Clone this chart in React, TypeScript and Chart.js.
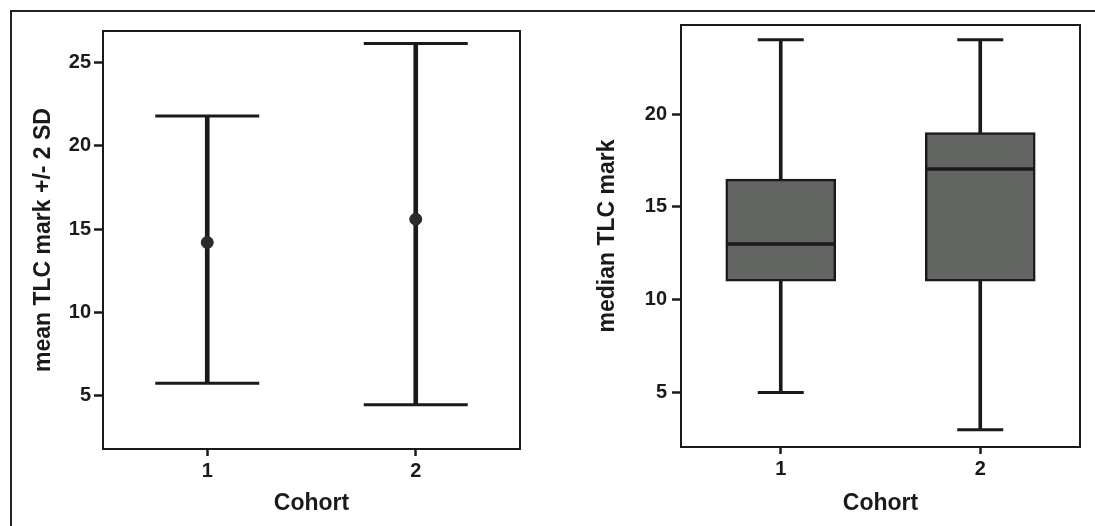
import React, { useEffect, useRef } from "react";
import { Chart, registerables } from "chart.js";

Chart.register(...registerables);

// ---------- data ----------
const cohorts = ["1", "2"];

// left panel: mean +/- 2 SD
const meanValues = [14.2, 15.6];
const upperValues = [21.8, 26.15];
const lowerValues = [5.75, 4.45];
const meanTicks = [5, 10, 15, 20, 25];
const meanRange = [1.8, 26.9];

// right panel: box plot
const whiskerLow = [5.0, 3.0];
const q1Values = [11.0, 11.0];
const medianValues = [13.0, 17.05];
const q3Values = [16.5, 19.0];
const whiskerHigh = [24.0, 24.0];
const medianTicks = [5, 10, 15, 20];
const medianRange = [2.07, 24.8];

// ---------- style ----------
const INK = "#1a1a1a";
const BOX_FILL = "#636562";
const FAMILY = "'Liberation Sans', Arial, Helvetica, sans-serif";
const tickFont = { family: FAMILY, size: 20, weight: "bold" as const };
const titleFont = { family: FAMILY, size: 23, weight: "bold" as const };

const framePlugin = {
  id: "frame",
  afterDatasetsDraw(chart: any) {
    const { ctx, chartArea: a } = chart;
    ctx.save();
    ctx.strokeStyle = INK;
    ctx.lineWidth = 2;
    ctx.strokeRect(a.left, a.top, a.right - a.left, a.bottom - a.top);
    ctx.restore();
  },
};

function zeroPad(s: any) {
  s.paddingTop = 0;
  s.paddingBottom = 0;
  s.paddingLeft = 0;
  s.paddingRight = 0;
}

function axisX(height: number) {
  return {
    afterFit: (s: any) => {
      s.height = height;
      zeroPad(s);
    },
    grid: {
      display: true,
      drawOnChartArea: false,
      offset: false,
      tickLength: 7,
      tickWidth: 2.5,
      tickColor: INK,
    },
    border: { display: false },
    ticks: { color: INK, font: tickFont, padding: 3, autoSkip: false, maxRotation: 0 },
    title: {
      display: true,
      text: "Cohort",
      color: INK,
      font: titleFont,
      padding: { top: 0, bottom: 9 },
    },
  };
}

function axisY(
  width: number,
  range: number[],
  ticks: number[],
  text: string,
  titlePad: number,
  labelPad: number
) {
  return {
    min: range[0],
    max: range[1],
    afterFit: (s: any) => {
      s.width = width;
      zeroPad(s);
    },
    afterBuildTicks: (s: any) => {
      s.ticks = ticks.map((v) => ({ value: v }));
    },
    grid: {
      display: true,
      drawOnChartArea: false,
      tickLength: 9,
      tickWidth: 2.5,
      tickColor: INK,
    },
    border: { display: false },
    ticks: { color: INK, font: tickFont, padding: labelPad, autoSkip: false },
    title: {
      display: true,
      text,
      color: INK,
      font: titleFont,
      padding: { top: titlePad, bottom: 0 },
    },
  };
}

function capSet(values: number[], radius: number, width: number, order: number) {
  return {
    type: "line" as const,
    data: values,
    showLine: false,
    pointStyle: "line" as const,
    pointRadius: radius,
    pointHoverRadius: radius,
    pointBorderWidth: width,
    pointBorderColor: INK,
    borderColor: INK,
    clip: false,
    order,
  };
}

export default function App() {
  const leftRef = useRef<HTMLCanvasElement>(null);
  const rightRef = useRef<HTMLCanvasElement>(null);

  useEffect(() => {
    const left = new Chart(leftRef.current as HTMLCanvasElement, {
      type: "bar",
      data: {
        labels: cohorts,
        datasets: [
          {
            type: "bar",
            data: cohorts.map((_, i) => [lowerValues[i], upperValues[i]]),
            backgroundColor: INK,
            borderWidth: 0,
            barThickness: 4,
            grouped: false,
            order: 3,
          } as any,
          capSet(upperValues, 52, 3, 2),
          capSet(lowerValues, 52, 3, 2),
          {
            type: "line",
            data: meanValues,
            showLine: false,
            pointStyle: "circle",
            pointRadius: 6,
            pointBackgroundColor: "#2b2b2b",
            pointBorderColor: "#2b2b2b",
            pointBorderWidth: 1,
            order: 1,
          } as any,
        ],
      },
      options: {
        responsive: false,
        animation: false,
        layout: { autoPadding: false, padding: { top: 31, right: 40, left: 0, bottom: 0 } },
        plugins: { legend: { display: false }, tooltip: { enabled: false } },
        scales: {
          x: axisX(77) as any,
          y: axisY(103, meanRange, meanTicks, "mean TLC mark +/- 2 SD", 30, 3) as any,
        },
      },
      plugins: [framePlugin],
    });

    const right = new Chart(rightRef.current as HTMLCanvasElement, {
      type: "bar",
      data: {
        labels: cohorts,
        datasets: [
          {
            type: "bar",
            data: cohorts.map((_, i) => [whiskerLow[i], whiskerHigh[i]]),
            backgroundColor: INK,
            borderWidth: 0,
            barThickness: 3,
            grouped: false,
            order: 5,
          } as any,
          {
            type: "bar",
            data: cohorts.map((_, i) => [q1Values[i], q3Values[i]]),
            backgroundColor: BOX_FILL,
            borderColor: INK,
            borderWidth: 2.5,
            borderSkipped: false,
            barThickness: 110,
            grouped: false,
            order: 3,
          } as any,
          capSet(whiskerHigh, 23, 3, 2),
          capSet(whiskerLow, 23, 3, 2),
          capSet(medianValues, 54, 3.5, 1),
        ],
      },
      options: {
        responsive: false,
        animation: false,
        layout: { autoPadding: false, padding: { top: 25, right: 15, left: 0, bottom: 0 } },
        plugins: { legend: { display: false }, tooltip: { enabled: false } },
        scales: {
          x: axisX(79) as any,
          y: axisY(121, medianRange, medianTicks, "median TLC mark", 34, 5) as any,
        },
      },
      plugins: [framePlugin],
    });

    return () => {
      left.destroy();
      right.destroy();
    };
  }, []);

  return (
    <div
      style={{
        position: "fixed",
        left: 0,
        top: 0,
        width: 1095,
        height: 526,
        background: "#ffffff",
        overflow: "hidden",
      }}
    >
      <div
        style={{
          position: "absolute",
          left: 10,
          top: 10,
          width: 1200,
          height: 600,
          borderLeft: "2px solid #222",
          borderTop: "2px solid #222",
        }}
      />
      <canvas
        ref={leftRef}
        width={560}
        height={526}
        style={{ position: "absolute", left: 0, top: 0, width: 560, height: 526 }}
      />
      <canvas
        ref={rightRef}
        width={535}
        height={526}
        style={{ position: "absolute", left: 560, top: 0, width: 535, height: 526 }}
      />
    </div>
  );
}
